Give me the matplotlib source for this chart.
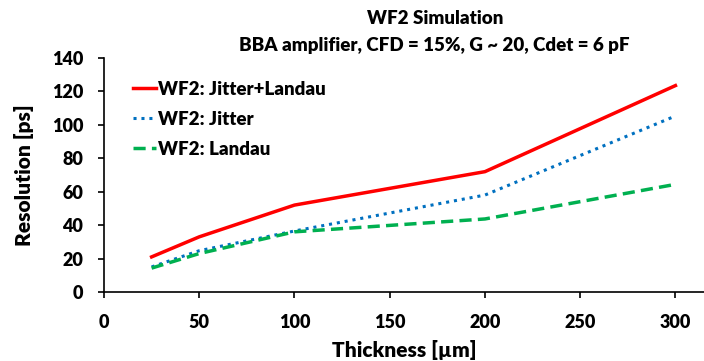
import matplotlib
matplotlib.use("Agg")
import matplotlib.pyplot as plt

thickness = [25, 50, 100, 200, 300]
jitter_landau = [21, 33, 52, 72, 123.5]
jitter = [15, 24.7, 36.5, 58, 105.3]
landau = [14.3, 23, 36, 43.7, 64.4]

plt.rcParams['font.family'] = ['Lato', 'DejaVu Sans']
plt.rcParams['font.weight'] = 'bold'

fig = plt.figure(figsize=(7.04, 3.61), dpi=100)
ax = fig.add_axes([104/704, 69/361, 1 - 104/704, (292-58)/361])

ax.plot(thickness, jitter_landau, color='#FF0000', lw=2.5, label='WF2: Jitter+Landau')
ax.plot(thickness, jitter, color='#0070C0', lw=2.2, ls=(0, (1, 1.6)), label='WF2: Jitter')
ax.plot(thickness, landau, color='#00B050', lw=2.5, ls=(0, (3.5, 1.8)), label='WF2: Landau')

ax.set_xlim(0, 315)
ax.set_ylim(0, 140)
ax.set_xticks([0, 50, 100, 150, 200, 250, 300])
ax.set_yticks(range(0, 141, 20))
for s in ['top', 'right']:
    ax.spines[s].set_visible(False)
for s in ['left', 'bottom']:
    ax.spines[s].set_linewidth(1.2)
ax.tick_params(axis='both', direction='out', length=4, width=1.2, labelsize=13)
ax.tick_params(axis='x', pad=12)
ax.tick_params(axis='y', pad=11)
for lbl in ax.get_xticklabels() + ax.get_yticklabels():
    lbl.set_fontweight('heavy')
ax.set_xlabel('Thickness [µm]', fontsize=15, fontweight='heavy', labelpad=6)
ax.set_ylabel('Resolution [ps]', fontsize=15, fontweight='heavy', labelpad=13)

fig.text(435/704, 1 - 19/361, 'WF2 Simulation', ha='center', va='center', fontsize=13.5, fontweight='heavy')
fig.text(434/704, 1 - 45/361, 'BBA amplifier, CFD = 15%, G ~ 20, Cdet = 6 pF', ha='center', va='center', fontsize=13.5, fontweight='heavy')

leg = ax.legend(loc='upper left', bbox_to_anchor=(0.02, 0.975), frameon=False, fontsize=13.5,
                handlelength=1.25, handletextpad=0.1, labelspacing=0.7)
for t in leg.get_texts():
    t.set_fontweight('heavy')

fig.savefig('out.png', dpi=100)
